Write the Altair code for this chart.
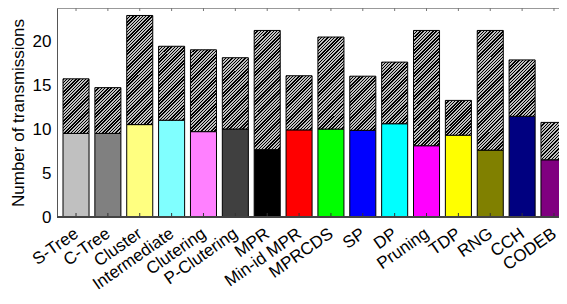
import math
import altair as alt

categories = ["S-Tree", "C-Tree", "Cluster", "Intermediate", "Clutering", "P-Clutering",
              "MPR", "Min-id MPR", "MPRCDS", "SP", "DP", "Pruning", "TDP", "RNG", "CCH", "CODEB"]
lower = [9.5, 9.5, 10.5, 11.0, 9.7, 10.0, 7.65, 9.9, 10.0, 9.85, 10.6, 8.1, 9.3, 7.6, 11.45, 6.5]
total = [15.7, 14.7, 22.9, 19.4, 19.0, 18.1, 21.2, 16.05, 20.45, 16.0, 17.6, 21.2, 13.25, 21.2, 17.85, 10.75]
colors = ["#C0C0C0", "#808080", "#FFFF80", "#80FFFF", "#FF80FF", "#404040", "#000000", "#FF0000",
          "#00FF00", "#0000FF", "#00FFFF", "#FF00FF", "#FFFF00", "#808000", "#000080", "#800080"]

W, H = 502, 209
PX = 8.8
YMAX = H / PX
BAR_W = 26.0
PERIOD = 2.3


def hatch(h):
    w = BAR_W
    k = w * (w + h) / (w * w + h * h)
    n = max(4, int(round((w + h) / (PERIOD * math.sqrt(2)))))
    stops = []
    for i in range(n):
        a = i / n
        b = (i + 0.45) / n
        c = (i + 1) / n
        stops += [{"offset": a, "color": "#000000"}, {"offset": b, "color": "#000000"},
                  {"offset": b, "color": "#c0c0c0"}, {"offset": c, "color": "#c0c0c0"}]
    return {"gradient": "linear", "x1": 0, "y1": 0, "x2": k, "y2": k * h / w, "stops": stops}


records = []
for c, lo, tot, col in zip(categories, lower, total, colors):
    records.append({"cat": c, "lower": lo, "total": tot, "color": col,
                    "grad": hatch((tot - lo) * PX)})

data = alt.Data(values=records)

xscale = alt.Scale(domain=categories, range=[6, 510], paddingInner=0.183, paddingOuter=0)
yscale = alt.Scale(domain=[0, YMAX], nice=False, zero=True)

x_enc = alt.X("cat:N", scale=xscale, sort=categories,
              axis=alt.Axis(title=None, labelAngle=325, labelAlign="right", labelBaseline="top",
                            labelPadding=8, labelOffset=-4, labelFontSize=17, labelColor="black",
                            labelFont="Liberation Sans", ticks=False, domain=False,
                            labelOverlap=False))
y_enc = alt.Y("lower:Q", scale=yscale,
              axis=alt.Axis(title="Number of transmissions", values=[0, 5, 10, 15, 20],
                            labelFontSize=17, labelFont="Liberation Sans", labelColor="black",
                            ticks=False, labelPadding=6, domainColor="#555", grid=False,
                            titleFontSize=17, titleFont="Liberation Sans", titleFontWeight="normal",
                            titleColor="black", titlePadding=5))

base = alt.Chart(data)

low_bars = base.mark_bar(stroke="black", strokeWidth=1, clip=True).encode(
    x=x_enc,
    y=y_enc,
    y2=alt.value(H),
    fill=alt.Fill("color:N", scale=None),
)

top_bars = base.mark_bar(stroke="black", strokeWidth=1, clip=True).encode(
    x=alt.X("cat:N", scale=xscale, sort=categories),
    y=alt.Y("lower:Q", scale=yscale),
    y2="total:Q",
    fill=alt.Fill("grad:N", scale=None),
)

bottom_ticks = base.mark_rule(color="#333", strokeWidth=1, clip=True).encode(
    x=alt.X("cat:N", scale=xscale, sort=categories),
    y=alt.value(H),
    y2=alt.value(H - 4),
)

top_ticks = base.mark_rule(color="#777", strokeWidth=1, clip=True).encode(
    x=alt.X("cat:N", scale=xscale, sort=categories),
    y=alt.value(0),
    y2=alt.value(3),
)

bottom_line = base.mark_rule(color="#444", strokeWidth=1).encode(
    x=alt.value(0), x2=alt.value(W), y=alt.value(H),
)

chart = alt.layer(low_bars, top_bars, bottom_ticks, top_ticks, bottom_line).properties(
    width=W, height=H,
    autosize=alt.AutoSizeParams(type="none"),
    padding={"left": 49, "top": 0, "right": 0, "bottom": 79},
).configure_view(stroke="#999", strokeWidth=1).configure_axis(grid=False)

chart.save("out.html", embed_options={"renderer": "svg", "actions": False})
